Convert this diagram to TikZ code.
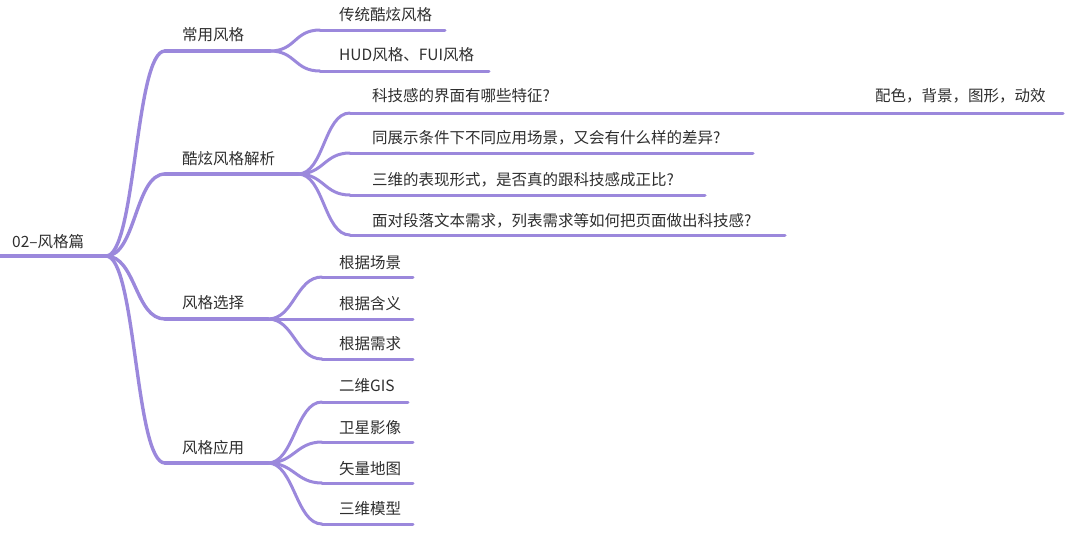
\documentclass[tikz,border=0pt]{standalone}
\usepackage{fontspec}
\setmainfont{Noto Sans CJK SC}
\definecolor{branchpurple}{HTML}{9B88DC}
\definecolor{topicgray}{HTML}{2E2E2E}

\begin{document}
\begin{tikzpicture}[x=1pt, y=-1pt,
  topic/.style={anchor=base west, inner sep=0pt, text=topicgray,
    font=\fontsize{15.5pt}{18pt}\selectfont},
  trunk/.style={draw=branchpurple, line width=3.4pt, line cap=round},
  twig/.style={draw=branchpurple, line width=3pt, line cap=round}]
% Page frame
\useasboundingbox (0,0) rectangle (1080,539);
% Root topic
\coordinate (root-in) at (0,256);
\coordinate (root-j) at (106,256);
\node[topic] (root) at (12,247) {02–风格篇};
\draw[trunk] (root-in) -- (root-j);
% Main branches
\coordinate (cy-in) at (165,51);   \coordinate (cy-j) at (270,51);
\coordinate (kx-in) at (165,174);  \coordinate (kx-j) at (298,174);
\coordinate (xz-in) at (165,319);  \coordinate (xz-j) at (268,319);
\coordinate (yy-in) at (165,463);  \coordinate (yy-j) at (268,463);
\node[topic] (cy) at (182,40) {常用风格};
\node[topic] (kx) at (182,164) {酷炫风格解析};
\node[topic] (xz) at (182,308) {风格选择};
\node[topic] (yy) at (182,453) {风格应用};
\foreach \b in {cy,kx,xz,yy} {
  \draw[trunk] (root-j) .. controls +(30,0) and +(-30,0) .. (\b-in);
  \draw[trunk] (\b-in) -- (\b-j);
}
% 常用风格
\coordinate (cy1-in) at (320,30);  \coordinate (cy1-out) at (445,30);
\coordinate (cy2-in) at (320,71);  \coordinate (cy2-out) at (489,71);
\node[topic] (cy1) at (339,20) {传统酷炫风格};
\node[topic] (cy2) at (339,60) {HUD风格、FUI风格};
% 酷炫风格解析
\coordinate (kx1-in) at (350,113); \coordinate (kx1-out) at (1063,113);
\coordinate (kx2-in) at (350,153); \coordinate (kx2-out) at (753,153);
\coordinate (kx3-in) at (350,195); \coordinate (kx3-out) at (705,195);
\coordinate (kx4-in) at (350,235); \coordinate (kx4-out) at (785,235);
\node[topic] (kx1) at (372,101) {科技感的界面有哪些特征?};
\node[topic] (kx1-note) at (875,101) {配色，背景，图形，动效};
\node[topic] (kx2) at (372,143) {同展示条件下不同应用场景，又会有什么样的差异?};
\node[topic] (kx3) at (372,185) {三维的表现形式，是否真的跟科技感成正比?};
\node[topic] (kx4) at (372,226) {面对段落文本需求，列表需求等如何把页面做出科技感?};
% 风格选择
\coordinate (xz1-in) at (322,277); \coordinate (xz1-out) at (413,277);
\coordinate (xz2-in) at (322,319); \coordinate (xz2-out) at (413,319);
\coordinate (xz3-in) at (322,359); \coordinate (xz3-out) at (413,359);
\node[topic] (xz1) at (339,268) {根据场景};
\node[topic] (xz2) at (339,309) {根据含义};
\node[topic] (xz3) at (339,349) {根据需求};
% 风格应用
\coordinate (yy1-in) at (322,402); \coordinate (yy1-out) at (408,402);
\coordinate (yy2-in) at (322,442); \coordinate (yy2-out) at (413,442);
\coordinate (yy3-in) at (322,483); \coordinate (yy3-out) at (413,483);
\coordinate (yy4-in) at (322,524); \coordinate (yy4-out) at (413,524);
\node[topic] (yy1) at (339,391) {二维GIS};
\node[topic] (yy2) at (339,433) {卫星影像};
\node[topic] (yy3) at (339,474) {矢量地图};
\node[topic] (yy4) at (339,514) {三维模型};
% Sub branches
\foreach \p/\c in {cy/cy1,cy/cy2,kx/kx1,kx/kx2,kx/kx3,kx/kx4,
                   xz/xz1,xz/xz2,xz/xz3,yy/yy1,yy/yy2,yy/yy3,yy/yy4} {
  \draw[twig] (\p-j) .. controls +(26,0) and +(-26,0) .. (\c-in);
  \draw[twig] (\c-in) -- (\c-out);
}
\end{tikzpicture}
\end{document}
